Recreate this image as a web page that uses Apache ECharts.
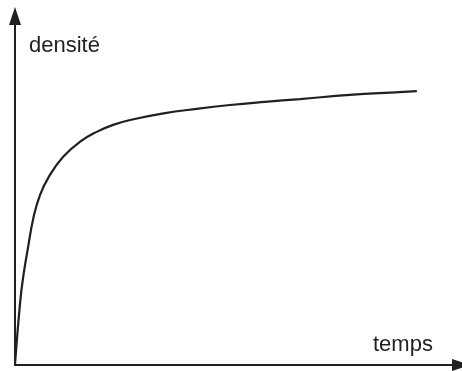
<!DOCTYPE html>
<html>
<head>
<meta charset="utf-8">
<style>
  html, body { margin: 0; padding: 0; background: #ffffff; }
  #chart { width: 462px; height: 371px; }
</style>
<script src="https://cdn.jsdelivr.net/npm/echarts@6/dist/echarts.min.js"></script>
</head>
<body>
<div id="chart"></div>
<script>
// Density versus time: fast initial rise, then a slow plateau.
const temps   = [0, 1.2, 2.0, 2.9, 4.1, 5.6, 7.8, 10.8, 14.6, 18.3, 22.0, 25.8, 33.3, 40.7, 48.2, 56.0, 63.9, 75.1, 86.3, 90.1];
const densite = [0, 18.6, 26.6, 33.5, 42.0, 48.7, 54.4, 59.7, 64.0, 66.8, 68.8, 70.2, 72.1, 73.4, 74.5, 75.4, 76.2, 77.4, 78.2, 78.5];

const xLabel = 'temps';
const yLabel = 'densité';

const ink = '#231f20';
const font = '22px "Liberation Sans", Arial, sans-serif';

const chart = echarts.init(document.getElementById('chart'), null, { renderer: 'canvas' });

const axisCommon = {
  type: 'value',
  min: 0,
  max: 100,
  axisLine: {
    show: true,
    onZero: false,
    symbol: ['none', 'triangle'],
    symbolSize: [12, 18],
    lineStyle: { color: ink, width: 2 }
  },
  axisTick: { show: false },
  axisLabel: { show: false },
  splitLine: { show: false }
};

chart.setOption({
  animation: false,
  backgroundColor: '#ffffff',
  grid: { left: 15, right: 1, top: 16, bottom: 6, containLabel: false },
  xAxis: Object.assign({}, axisCommon),
  yAxis: Object.assign({}, axisCommon),
  graphic: [
    {
      type: 'text',
      left: 29,
      top: 35,
      style: { text: yLabel, font: font, fill: ink }
    },
    {
      type: 'text',
      left: 373,
      top: 334,
      style: { text: xLabel, font: font, fill: ink }
    }
  ],
  series: [{
    type: 'line',
    data: temps.map((t, i) => [t, densite[i]]),
    smooth: 0.45,
    showSymbol: false,
    lineStyle: { color: ink, width: 2.2 }
  }]
});
</script>
</body>
</html>
